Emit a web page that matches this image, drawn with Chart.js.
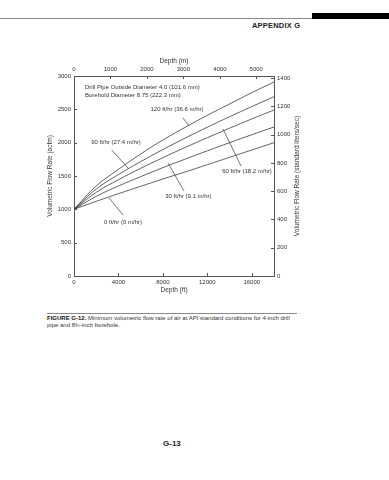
<!DOCTYPE html>
<html>
<head>
<meta charset="utf-8">
<script src="https://cdn.jsdelivr.net/npm/chart.js@4/dist/chart.umd.min.js"></script>
<style>
    body { margin: 0; background: #fff; }
    #page { position: relative; width: 389px; height: 480px; overflow: hidden; font-family: 'Liberation Sans', Arial, sans-serif; color: #222; }
    #c { position: absolute; left: 0; top: 0; }
    .rule { position: absolute; height: 1px; background: #8a8a8a; }
    #bar { position: absolute; left: 312px; top: 13px; width: 77px; height: 6px; background: #000; }
    #appx { position: absolute; left: 252px; top: 21px; font-size: 7.5px; font-weight: bold; letter-spacing: 0.2px; }
    #caption { position: absolute; left: 47px; top: 315px; font-size: 6px; line-height: 7px; white-space: nowrap; color: #333; }
    #caption b { color: #111; }
    #pageno { position: absolute; left: 163px; top: 439px; font-size: 8px; font-weight: bold; }
</style>
</head>
<body>
<div id="page">
    <div class="rule" style="left:0;top:18px;width:312px;"></div>
    <div id="bar"></div>
    <div id="appx">APPENDIX G</div>
    <canvas id="c" width="389" height="310"></canvas>
    <div class="rule" style="left:47px;top:313px;width:250px;"></div>
    <div id="caption"><b>FIGURE G-12.</b> Minimum volumetric flow rate of air at API standard conditions for 4-inch drill<br>pipe and 8¾-inch borehole.</div>
    <div id="pageno">G-13</div>
</div>
<script>
const depthFt = [0, 2000, 4000, 6000, 8000, 10000, 12000, 14000, 16000, 18000];
const rate120 = [1000, 1350, 1600, 1830, 2040, 2230, 2410, 2580, 2750, 2910];
const rate90 = [1000, 1304, 1522, 1715, 1897, 2068, 2232, 2389, 2541, 2690];
const rate60 = [1000, 1255, 1444, 1615, 1775, 1928, 2074, 2217, 2356, 2490];
const rate30 = [1000, 1195, 1350, 1490, 1625, 1753, 1878, 2000, 2119, 2235];
const rate0 = [1000, 1120, 1235, 1345, 1455, 1560, 1670, 1780, 1890, 2000];

const ftTicks = [0, 4000, 8000, 12000, 16000];
const mTicks = [0, 1000, 2000, 3000, 4000, 5000];
const acfmTicks = [0, 500, 1000, 1500, 2000, 2500, 3000];
const lpsTicks = [0, 200, 400, 600, 800, 1000, 1200, 1400];

// callouts: text, label point (ft, acfm), leader from -> to (ft, acfm)
const notes = [
    { text: '120 ft/hr (36.6 m/hr)', at: [9270, 2505], from: [9810, 2370], to: [10350, 2250] },
    { text: '90 ft/hr (27.4 m/hr)', at: [3780, 2010], from: [3390, 1890], to: [4890, 1615] },
    { text: '60 ft/hr (18.2 m/hr)', at: [15570, 1575], from: [15030, 1650], to: [13410, 2205] },
    { text: '30 ft/hr (9.1 m/hr)', at: [10300, 1200], from: [9900, 1275], to: [8460, 1695] },
    { text: '0 ft/hr (0 m/hr)', at: [4410, 810], from: [4410, 915], to: [3150, 1170] }
];
const pipeText = ['Drill Pipe Outside Diameter 4.0 (101.6 mm)', 'Borehold Diameter 8.75 (222.3 mm)'];

const lineCol = '#3a3a3a';
const font = 'Liberation Sans';

function serie(data) {
    return {
        data: data.map((v, i) => ({ x: depthFt[i], y: v })),
        borderColor: lineCol,
        borderWidth: 0.8,
        pointRadius: 0,
        tension: 0.4,
        fill: false,
        xAxisID: 'x',
        yAxisID: 'y'
    };
}

function axis(position, min, max, tickList, fit) {
    return {
        type: 'linear',
        position: position,
        min: min,
        max: max,
        afterBuildTicks: s => { s.ticks = tickList.map(v => ({ value: v })); },
        afterFit: fit,
        grid: { drawOnChartArea: false, drawTicks: false },
        border: { display: true, color: '#555', width: 1 },
        ticks: {
            color: '#333',
            padding: 3,
            autoSkip: false,
            maxRotation: 0,
            callback: v => String(v),
            font: { size: 6, family: font }
        }
    };
}

const extras = {
    id: 'extras',
    afterDraw(chart) {
        const ctx = chart.ctx;
        const a = chart.chartArea;
        const sx = chart.scales.x, sy = chart.scales.y;
        ctx.save();
        // inward tick marks
        ctx.strokeStyle = '#555';
        ctx.lineWidth = 1;
        for (const id of ['x', 'xTop', 'y', 'yRight']) {
            const s = chart.scales[id];
            for (const t of s.ticks) {
                const p = Math.round(s.getPixelForValue(t.value)) + 0.5;
                ctx.beginPath();
                if (id === 'x') { ctx.moveTo(p, a.bottom); ctx.lineTo(p, a.bottom - 3); }
                if (id === 'xTop') { ctx.moveTo(p, a.top); ctx.lineTo(p, a.top + 3); }
                if (id === 'y') { ctx.moveTo(a.left, p); ctx.lineTo(a.left + 3, p); }
                if (id === 'yRight') { ctx.moveTo(a.right, p); ctx.lineTo(a.right - 3, p); }
                ctx.stroke();
            }
        }
        // axis titles
        ctx.fillStyle = '#333';
        ctx.font = '6.5px ' + font;
        ctx.textAlign = 'center';
        ctx.textBaseline = 'middle';
        const cx = (a.left + a.right) / 2, cy = (a.top + a.bottom) / 2;
        ctx.fillText('Depth (m)', cx, a.top - 15);
        ctx.fillText('Depth (ft)', cx, a.bottom + 14);
        ctx.save();
        ctx.translate(a.left - 24, cy);
        ctx.rotate(-Math.PI / 2);
        ctx.fillText('Volumetric Flow Rate (acfm)', 0, 0);
        ctx.restore();
        ctx.save();
        ctx.translate(a.right + 23, cy);
        ctx.rotate(-Math.PI / 2);
        ctx.fillText('Volumetric Flow Rate (standard liters/sec)', 0, 0);
        ctx.restore();
        // pipe note
        ctx.font = '6px ' + font;
        ctx.textAlign = 'left';
        ctx.fillText(pipeText[0], sx.getPixelForValue(990), sy.getPixelForValue(2825));
        ctx.fillText(pipeText[1], sx.getPixelForValue(990), sy.getPixelForValue(2705));
        // callouts
        ctx.textAlign = 'center';
        ctx.strokeStyle = lineCol;
        ctx.lineWidth = 0.7;
        for (const n of notes) {
            ctx.fillText(n.text, sx.getPixelForValue(n.at[0]), sy.getPixelForValue(n.at[1]));
            ctx.beginPath();
            ctx.moveTo(sx.getPixelForValue(n.from[0]), sy.getPixelForValue(n.from[1]));
            ctx.lineTo(sx.getPixelForValue(n.to[0]), sy.getPixelForValue(n.to[1]));
            ctx.stroke();
        }
        ctx.restore();
    }
};

new Chart(document.getElementById('c').getContext('2d'), {
    type: 'line',
    data: {
        datasets: [serie(rate120), serie(rate90), serie(rate60), serie(rate30), serie(rate0)]
    },
    options: {
        responsive: false,
        animation: false,
        devicePixelRatio: 1,
        layout: { padding: 0 },
        plugins: { legend: { display: false }, tooltip: { enabled: false } },
        scales: {
            x: axis('bottom', 0, 18000, ftTicks, s => { s.height = 34; }),
            xTop: axis('top', 0, 18000 * 0.3048, mTicks, s => { s.height = 76; }),
            y: axis('left', 0, 3000, acfmTicks, s => { s.width = 74; }),
            yRight: axis('right', 0, 3000 * 0.47195, lpsTicks, s => { s.width = 115; })
        }
    },
    plugins: [extras]
});
</script>
</body>
</html>
